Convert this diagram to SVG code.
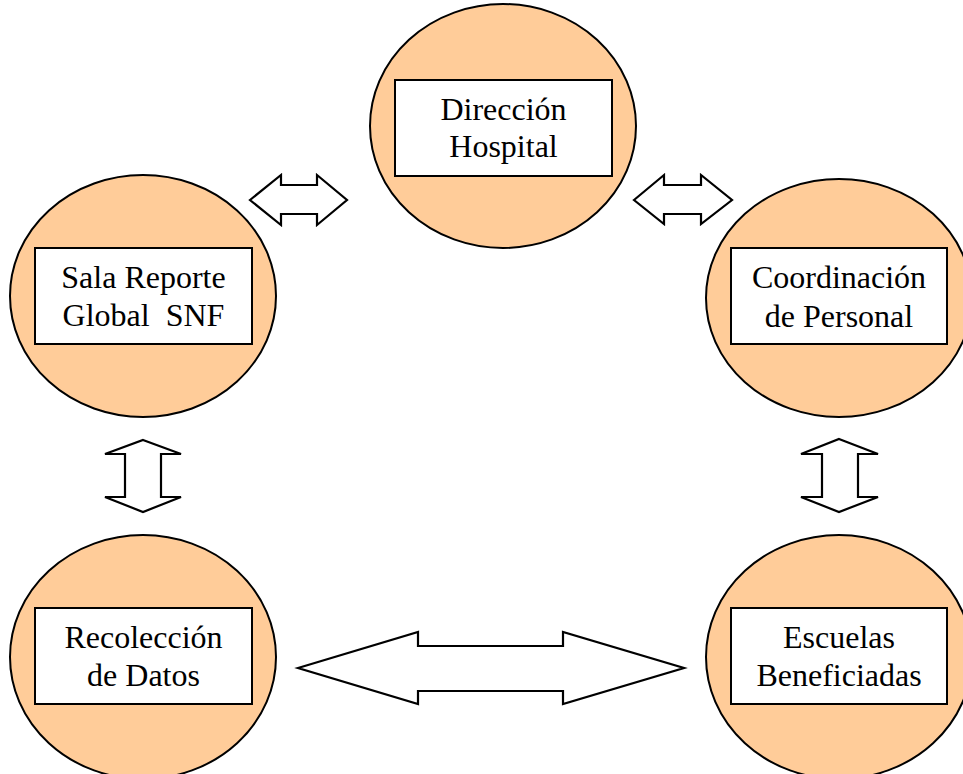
<svg xmlns="http://www.w3.org/2000/svg" width="963" height="774" viewBox="0 0 963 774">
  <style>
    .bubble { fill: #FFCC99; stroke: #000; stroke-width: 2; }
    .box { fill: #fff; stroke: #000; stroke-width: 2; }
    .label { font-family: "Liberation Serif", "Times New Roman", serif; font-size: 32px; fill: #000; text-anchor: middle; }
    .arrow { fill: #fff; stroke: #000; stroke-width: 2.2; stroke-linejoin: miter; }
  </style>
  <rect width="963" height="774" fill="#fff"/>

  <g id="node-direccion">
    <ellipse class="bubble" cx="503" cy="126" rx="133" ry="122"/>
    <rect class="box" x="395" y="80" width="217" height="96"/>
    <text class="label" x="503.5" y="120">Dirección</text>
    <text class="label" x="503.5" y="157">Hospital</text>
  </g>

  <g id="node-sala">
    <ellipse class="bubble" cx="143" cy="296" rx="133" ry="121"/>
    <rect class="box" x="35" y="248" width="217" height="96"/>
    <text class="label" x="143.5" y="288">Sala Reporte</text>
    <text class="label" x="143.5" y="326" xml:space="preserve">Global  SNF</text>
  </g>

  <g id="node-coordinacion">
    <ellipse class="bubble" cx="839" cy="298" rx="133" ry="119"/>
    <rect class="box" x="731" y="248" width="216" height="96"/>
    <text class="label" x="839" y="288">Coordinación</text>
    <text class="label" x="839" y="327">de Personal</text>
  </g>

  <g id="node-recoleccion">
    <ellipse class="bubble" cx="143" cy="657" rx="133" ry="122"/>
    <rect class="box" x="35" y="608" width="217" height="96"/>
    <text class="label" x="143.5" y="648">Recolección</text>
    <text class="label" x="143.5" y="686">de Datos</text>
  </g>

  <g id="node-escuelas">
    <ellipse class="bubble" cx="839" cy="657" rx="133" ry="122"/>
    <rect class="box" x="731" y="608" width="216" height="96"/>
    <text class="label" x="839" y="648">Escuelas</text>
    <text class="label" x="839" y="686">Beneficiadas</text>
  </g>

  <g id="connectors">
    <!-- Sala <-> Dirección -->
    <polygon class="arrow" points="250,200 281,175 281,185 317,185 317,175 347,200 317,225 317,214 281,214 281,225"/>
    <!-- Dirección <-> Coordinación -->
    <polygon class="arrow" points="634,200 664,175 664,185 701,185 701,175 732,200 701,224 701,214 664,214 664,224"/>
    <!-- Sala <-> Recolección -->
    <polygon class="arrow" points="143,440 181,454 161,454 161,497 181,497 143,512 105,497 125,497 125,454 105,454"/>
    <!-- Coordinación <-> Escuelas -->
    <polygon class="arrow" points="839,439 878,454 858,454 858,497 878,497 839,512 801,497 822,497 822,454 801,454"/>
    <!-- Recolección <-> Escuelas -->
    <polygon class="arrow" points="298,668 418,632 418,646 563,646 563,632 684,668 563,704 563,691 418,691 418,704"/>
  </g>
</svg>
